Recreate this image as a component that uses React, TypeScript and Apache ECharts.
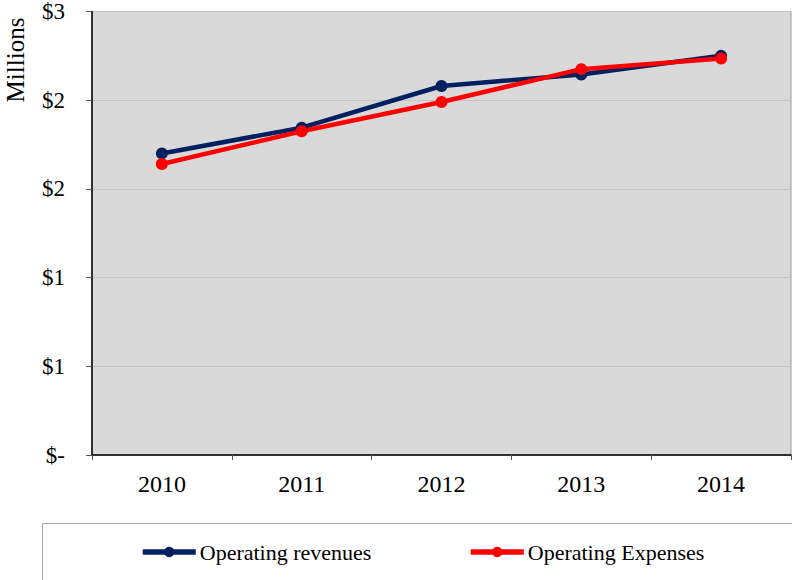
import React, { useEffect, useRef } from "react";
import * as echarts from "echarts";

const years = ["2010", "2011", "2012", "2013", "2014"];
const revenues = [1.70, 1.845, 2.08, 2.145, 2.25];
const expenses = [1.64, 1.825, 1.99, 2.175, 2.235];
const yTicks = [0, 0.5, 1, 1.5, 2, 2.5];

const FONT = "Liberation Serif, Times New Roman, serif";

export default function App() {
  const ref = useRef<HTMLDivElement>(null);
  useEffect(() => {
    if (!ref.current) return;
    const chart = echarts.init(ref.current, undefined, { renderer: "svg" });
    chart.setOption({
      animation: false,
      backgroundColor: "#ffffff",
      textStyle: { fontFamily: FONT },
      grid: {
        left: 92,
        right: 1,
        top: 10,
        bottom: 125,
        show: true,
        backgroundColor: "#D9D9D9",
        borderColor: "#9A9A9A",
        borderWidth: 1,
      },
      xAxis: {
        type: "category",
        data: years,
        boundaryGap: true,
        axisLine: { lineStyle: { color: "#000", width: 1.5 } },
        axisTick: { show: true, length: 5, lineStyle: { color: "#555" } },
        axisLabel: { color: "#000", fontSize: 24, margin: 17, fontFamily: FONT },
        splitLine: { show: false },
      },
      yAxis: {
        type: "value",
        min: 0,
        max: yTicks[yTicks.length - 1],
        interval: 0.5,
        axisLine: { show: true, lineStyle: { color: "#000", width: 1.5 } },
        axisTick: { show: true, length: 6, lineStyle: { color: "#555" } },
        axisLabel: {
          color: "#000",
          fontSize: 23,
          margin: 27,
          fontFamily: FONT,
          formatter: (v: number) => (v === 0 ? "$-" : "$" + Math.round(v)),
        },
        splitLine: { show: true, lineStyle: { color: "#C4C4C4", width: 1 } },
      },
      legend: [
        {
          data: ["Operating revenues"],
          left: 140,
          top: 541,
          padding: 0,
          itemWidth: 53,
          itemHeight: 13,
          lineStyle: { width: 5.5 },
          textStyle: { fontSize: 22, color: "#000", fontFamily: FONT, padding: [0, 0, 0, -1] },
        },
        {
          data: ["Operating Expenses"],
          left: 468,
          top: 541,
          padding: 0,
          itemWidth: 53,
          itemHeight: 13,
          lineStyle: { width: 5.5 },
          textStyle: { fontSize: 22, color: "#000", fontFamily: FONT, padding: [0, 0, 0, -1] },
        },
      ],
      graphic: [
        {
          type: "rect",
          shape: { x: 42.5, y: 523.5, width: 800, height: 100 },
          style: { fill: "none", stroke: "#A6A6A6", lineWidth: 1 },
          silent: true,
        },
        {
          type: "text",
          x: 15,
          y: 60,
          rotation: Math.PI / 2,
          style: {
            text: "Millions",
            font: `25px ${FONT}`,
            fill: "#000",
            align: "center",
            verticalAlign: "middle",
          },
        },
      ],
      series: [
        {
          name: "Operating revenues",
          type: "line",
          data: revenues,
          symbol: "circle",
          symbolSize: 12,
          itemStyle: { color: "#002060" },
          lineStyle: { color: "#002060", width: 4.5 },
        },
        {
          name: "Operating Expenses",
          type: "line",
          data: expenses,
          symbol: "circle",
          symbolSize: 12,
          itemStyle: { color: "#FF0000" },
          lineStyle: { color: "#FF0000", width: 4.5 },
        },
      ],
    });
    return () => chart.dispose();
  }, []);
  return (
    <div
      ref={ref}
      style={{ position: "fixed", left: 0, top: 0, width: 792, height: 580 }}
    />
  );
}
